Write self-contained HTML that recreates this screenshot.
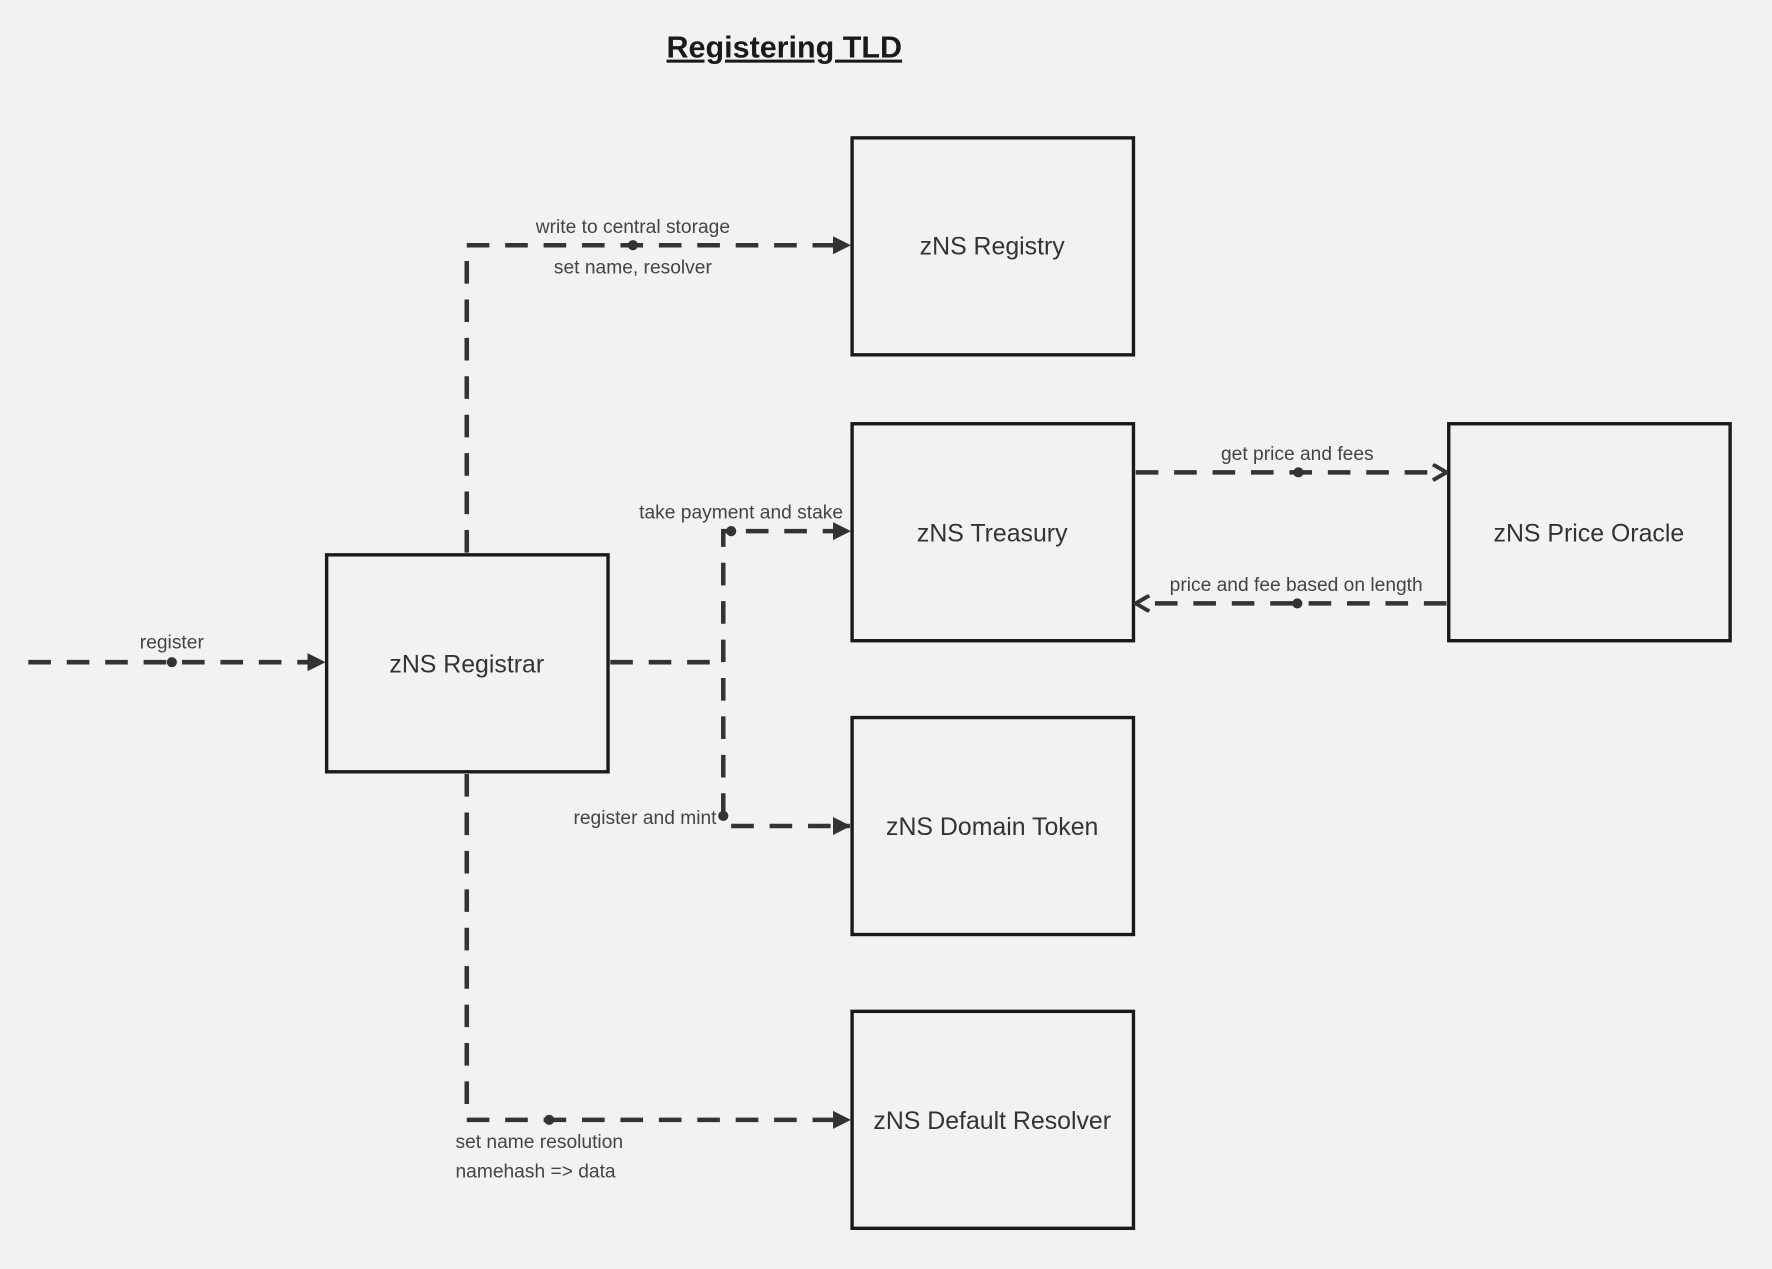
<!DOCTYPE html>
<html><head><style>html,body{margin:0;padding:0;background:#f2f2f2;}svg{display:block}</style></head>
<body>
<svg width="1772" height="1269" viewBox="0 0 1568 1123" xmlns="http://www.w3.org/2000/svg" font-family="Liberation Sans, sans-serif">
<rect width="1568" height="1123" fill="#f2f2f2"/>
<defs>
<marker id="a" markerWidth="16" markerHeight="16" refX="15" refY="8" orient="auto" markerUnits="userSpaceOnUse" viewBox="0 0 16 16"><path d="M0,0 L16,8 L0,16 Z" fill="#333"/></marker>
<marker id="c" markerWidth="16" markerHeight="16" refX="14" refY="8" orient="auto" markerUnits="userSpaceOnUse" viewBox="0 0 16 16"><path d="M2,1 L14,8 L2,15" fill="none" stroke="#333" stroke-width="3.5"/></marker>
</defs>
<text x="694" y="51" text-anchor="middle" font-size="27" font-weight="bold" fill="#1a1a1a" text-decoration="underline">Registering TLD</text>
<g fill="#f2f2f2" stroke="#1a1a1a" stroke-width="3">
<rect x="754" y="122" width="249" height="192"/>
<rect x="754" y="375" width="249" height="192"/>
<rect x="1282" y="375" width="249" height="192"/>
<rect x="754" y="635" width="249" height="192"/>
<rect x="754" y="895" width="249" height="192"/>
<rect x="289" y="491" width="249" height="192"/>
</g>
<g font-size="22" fill="#333" text-anchor="middle">
<text x="878" y="225">zNS Registry</text>
<text x="878" y="479">zNS Treasury</text>
<text x="1406" y="479">zNS Price Oracle</text>
<text x="878" y="739">zNS Domain Token</text>
<text x="878" y="999">zNS Default Resolver</text>
<text x="413" y="595">zNS Registrar</text>
</g>
<g fill="none" stroke="#333" stroke-width="4" stroke-dasharray="20 14">
<path d="M25,586 H287" marker-end="url(#a)"/>
<path d="M413,489 V217 H752" marker-end="url(#a)"/>
<path d="M540,586 H640"/>
<path d="M640,722 V470 H752" marker-end="url(#a)"/>
<path d="M647,731 H752" marker-end="url(#a)"/>
<path d="M1005,418 H1280" marker-end="url(#c)"/>
<path d="M1280,534 H1005" marker-end="url(#c)"/>
<path d="M413,685 V991 H752" marker-end="url(#a)"/>
</g>
<g fill="#333">
<circle cx="152" cy="586" r="4.5"/><circle cx="560" cy="217" r="4.5"/>
<circle cx="647" cy="470" r="4.5"/><circle cx="640" cy="722" r="4.5"/>
<circle cx="1149" cy="418" r="4.5"/><circle cx="1148" cy="534" r="4.5"/>
<circle cx="486" cy="991" r="4.5"/>
</g>
<g font-size="17" fill="#444" text-anchor="middle">
<text x="152" y="574">register</text>
<text x="560" y="206">write to central storage</text>
<text x="560" y="242">set name, resolver</text>
<text x="746" y="459" text-anchor="end">take payment and stake</text>
<text x="634" y="729" text-anchor="end">register and mint</text>
<text x="1148" y="407">get price and fees</text>
<text x="1147" y="523">price and fee based on length</text>
<text x="403" y="1016" text-anchor="start">set name resolution</text>
<text x="403" y="1042" text-anchor="start">namehash =&gt; data</text>
</g>
</svg>
</body></html>
